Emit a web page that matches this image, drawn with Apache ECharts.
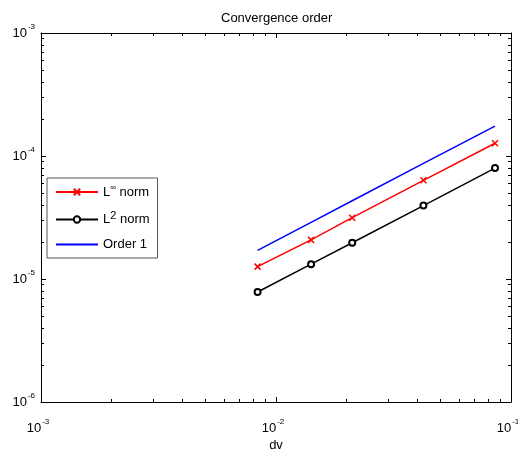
<!DOCTYPE html>
<html>
<head>
<meta charset="utf-8">
<script src="https://cdn.jsdelivr.net/npm/echarts@6/dist/echarts.min.js"></script>
<style>
html,body{margin:0;padding:0;background:#fff;}
#c{width:518px;height:454px;}
</style>
</head>
<body>
<div id="c"></div>
<script>
// data
const dv     = [0.00835, 0.0141, 0.0211, 0.0424, 0.0855];
const linf   = [1.26e-5, 2.08e-5, 3.15e-5, 6.34e-5, 1.27e-4];
const l2     = [7.84e-6, 1.32e-5, 1.97e-5, 3.95e-5, 7.98e-5];
const order1 = [1.71e-5, 2.89e-5, 4.33e-5, 8.70e-5, 1.75e-4];

const xDecades = [0.001, 0.01];
const yDecades = [1e-6, 1e-5, 1e-4];
const minorMult = [2, 3, 4, 5, 6, 7, 8, 9];

function minorLog(decades) {
  const out = [];
  decades.forEach(d => minorMult.forEach(k => out.push(Math.log10(k * d))));
  return out;
}
const xMinor = minorLog(xDecades);
const yMinor = minorLog(yDecades);

const FONT = 'Liberation Sans, Arial, sans-serif';
const labelRich = {
  b: { fontSize: 13, color: '#000', fontFamily: FONT },
  e: { fontSize: 8, color: '#000', fontFamily: FONT, padding: [0, 0, 12, 1] }
};
const powFmt = v => '{b|10}{e|' + Math.round(Math.log10(v)) + '}';

const lineAx = { show: true, lineStyle: { color: '#000', width: 1 } };
const majTick = { show: true, inside: true, length: 5, lineStyle: { color: '#000' } };
const minTick = { show: true, inside: true, length: 3, lineStyle: { color: '#000' } };

function pairs(xs, ys) { return xs.map((x, i) => [x, ys[i]]); }

const chart = echarts.init(document.getElementById('c'));
chart.setOption({
  animation: false,
  backgroundColor: '#fff',
  title: {
    text: 'Convergence order',
    left: 216, top: 7,
    textStyle: { fontSize: 13, fontWeight: 'normal', color: '#000', fontFamily: FONT }
  },
  grid: { left: 41, right: 7, top: 33, bottom: 52, containLabel: false, outerBoundsMode: 'none' },
  legend: {
    left: 47, top: 178,
    orient: 'vertical',
    data: ['Linf', 'L2', 'Order 1'],
    itemWidth: 42, itemHeight: 8, itemGap: 12,
    padding: [6, 8, 7, 8],
    borderColor: '#555', borderWidth: 1, backgroundColor: '#fff',
    formatter: function (n) {
      if (n === 'Linf') return '{n|L}{s|\u221E}{n| norm}';
      if (n === 'L2') return '{n|L}{t|2}{n| norm}';
      return '{n|' + n + '}';
    },
    textStyle: {
      color: '#000', fontSize: 13, fontFamily: FONT,
      rich: {
        n: { fontSize: 13, color: '#000', fontFamily: FONT },
        s: { fontSize: 8, color: '#000', fontFamily: FONT, padding: [0, 0, 8, 0] },
        t: { fontSize: 11, color: '#000', fontFamily: FONT, padding: [0, 0, 7, 0] }
      }
    }
  },
  xAxis: [
    { type: 'log', logBase: 10, min: 0.001, max: 0.1, position: 'bottom',
      axisLine: lineAx, axisTick: majTick, splitLine: { show: false },
      axisLabel: { formatter: powFmt, rich: labelRich, margin: 16, padding: [0, 6, 0, 0] },
      name: 'dv', nameLocation: 'middle', nameGap: 37,
      nameTextStyle: { fontSize: 13, color: '#000', fontFamily: FONT } },
    { type: 'value', min: -3, max: -1, position: 'bottom',
      axisLine: { show: false }, axisTick: Object.assign({ customValues: xMinor }, minTick),
      axisLabel: { show: false }, splitLine: { show: false } },
    { type: 'log', logBase: 10, min: 0.001, max: 0.1, position: 'top',
      axisLine: lineAx, axisTick: majTick, axisLabel: { show: false }, splitLine: { show: false } },
    { type: 'value', min: -3, max: -1, position: 'top',
      axisLine: { show: false }, axisTick: Object.assign({ customValues: xMinor }, minTick),
      axisLabel: { show: false }, splitLine: { show: false } }
  ],
  yAxis: [
    { type: 'log', logBase: 10, min: 1e-6, max: 1e-3, position: 'left',
      axisLine: lineAx, axisTick: majTick, splitLine: { show: false },
      axisLabel: { formatter: powFmt, rich: labelRich, margin: 6 } },
    { type: 'value', min: -6, max: -3, position: 'left',
      axisLine: { show: false }, axisTick: Object.assign({ customValues: yMinor }, minTick),
      axisLabel: { show: false }, splitLine: { show: false } },
    { type: 'log', logBase: 10, min: 1e-6, max: 1e-3, position: 'right',
      axisLine: lineAx, axisTick: majTick, axisLabel: { show: false }, splitLine: { show: false } },
    { type: 'value', min: -6, max: -3, position: 'right',
      axisLine: { show: false }, axisTick: Object.assign({ customValues: yMinor }, minTick),
      axisLabel: { show: false }, splitLine: { show: false } }
  ],
  series: [
    { name: 'Linf', type: 'line', xAxisIndex: 0, yAxisIndex: 0,
      data: pairs(dv, linf),
      symbol: 'path://M0 0L10 10M10 0L0 10', symbolSize: 6,
      lineStyle: { color: '#ff0000', width: 1.5 },
      itemStyle: { color: '#ff0000', borderColor: '#ff0000', borderWidth: 1.5 } },
    { name: 'L2', type: 'line', xAxisIndex: 0, yAxisIndex: 0,
      data: pairs(dv, l2),
      symbol: 'emptyCircle', symbolSize: 6,
      lineStyle: { color: '#000', width: 1.5 },
      itemStyle: { color: '#000', borderColor: '#000', borderWidth: 1.5 } },
    { name: 'Order 1', type: 'line', xAxisIndex: 0, yAxisIndex: 0,
      data: pairs(dv, order1),
      symbol: 'circle', symbolSize: 0, showSymbol: false,
      lineStyle: { color: '#0000ff', width: 1.5 },
      itemStyle: { color: '#0000ff', opacity: 0 } }
  ]
});
</script>
</body>
</html>
